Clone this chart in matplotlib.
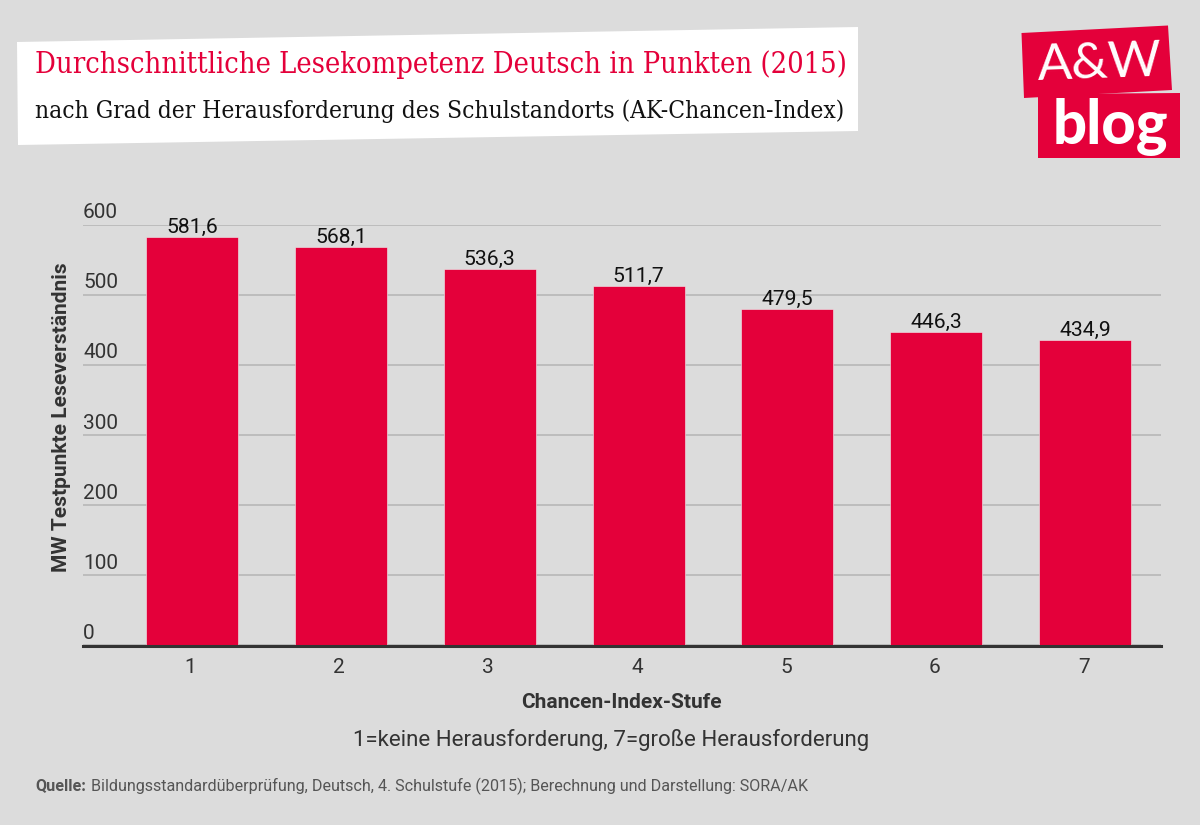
import matplotlib
matplotlib.use('Agg')
import matplotlib.pyplot as plt
from matplotlib.patches import Polygon
from matplotlib.transforms import ScaledTranslation

# Daten
stufen = [1, 2, 3, 4, 5, 6, 7]
werte = [581.6, 568.1, 536.3, 511.7, 479.5, 446.3, 434.9]
werte_text = ['581,6', '568,1', '536,3', '511,7', '479,5', '446,3', '434,9']
y_ticks = [0, 100, 200, 300, 400, 500, 600]

ROT = '#e4003a'
GRAU = '#dcdcdc'
DUNKEL = '#333333'

plt.rcParams['font.family'] = ['Roboto', 'DejaVu Sans']

W, H = 1200, 825
fig = plt.figure(figsize=(12, 8.25), dpi=100, facecolor=GRAU)

# Achsen in Pixelpositionen des Originals
links, rechts, oben, unten = 83, 1161, 224.5, 645.3
ax = fig.add_axes([links / W, 1 - unten / H, (rechts - links) / W, (unten - oben) / H])
ax.set_facecolor('none')
ax.set_xlim(0.268, 7.51)
ax.set_ylim(0, 600)

ax.grid(axis='y', color='#b4b4b4', linewidth=1.1)
ax.set_axisbelow(True)
ax.bar(stufen, werte, width=0.618, color=ROT, edgecolor='#f0f0f0', linewidth=0.4)

for s, v, t in zip(stufen, werte, werte_text):
    ax.annotate(t, (s, v), xytext=(0, 0.3), textcoords='offset points',
                ha='center', va='bottom', fontsize=15.2, color='#111111')

for side in ['top', 'left', 'right']:
    ax.spines[side].set_visible(False)
ax.spines['bottom'].set_color(DUNKEL)
ax.spines['bottom'].set_linewidth(2.2)
ax.spines['bottom'].set_position(('outward', 0.8))

ax.set_xticks(stufen)
ax.set_yticks(y_ticks)
ax.tick_params(axis='both', length=0, labelsize=15, labelcolor=DUNKEL)
ax.tick_params(axis='x', pad=8.7)
ax.tick_params(axis='y', pad=0)
hoch = ScaledTranslation(0, 4.6 / 72, fig.dpi_scale_trans)
links_weg = ScaledTranslation(-1.5 / 100, 0, fig.dpi_scale_trans)
for lab in ax.get_yticklabels():
    lab.set_ha('left')
    lab.set_va('baseline')
    lab.set_transform(lab.get_transform() + hoch)
for lab in ax.get_xticklabels():
    lab.set_transform(lab.get_transform() + links_weg)

# Overlay fuer Titel, Logo und Beschriftungen
ov = fig.add_axes([0, 0, 1, 1], zorder=5)
ov.set_xlim(0, W)
ov.set_ylim(H, 0)
ov.axis('off')

ov.add_patch(Polygon([(17, 42), (858, 27), (858, 131), (18, 145)], color='white', lw=0))
ov.text(35, 65, 'Durchschnittliche Lesekompetenz Deutsch in Punkten (2015)',
        family=['DejaVu Serif'], stretch='condensed', fontsize=20.8, color=ROT, va='center')
ov.text(35, 111, 'nach Grad der Herausforderung des Schulstandorts (AK-Chancen-Index)',
        family=['DejaVu Serif'], stretch='condensed', fontsize=17.6, color='#111111', va='center')

# Logo
ov.add_patch(Polygon([(1021.5, 33), (1168, 25.5), (1172, 90), (1024, 98)], color=ROT, lw=0))
ov.add_patch(Polygon([(1038, 94), (1180, 93), (1180, 158), (1038, 158)], color=ROT, lw=0))
ov.text(1100, 64, 'A&W', color='white', fontsize=37, ha='center', va='center',
        family=['Lato'], rotation=2)
ov.text(1110, 127, 'blog', color='white', fontsize=43, ha='center', va='center',
        family=['Lato'], fontweight='black')

ov.text(62, 417, 'MW Testpunkte Leseverständnis', rotation=90, fontsize=15, fontweight='bold',
        color=DUNKEL, ha='center', va='center')
ov.text(621, 703, 'Chancen-Index-Stufe', fontsize=15, fontweight='bold', color=DUNKEL,
        ha='center', va='center')
ov.text(611, 740, '1=keine Herausforderung, 7=große Herausforderung', fontsize=16, color=DUNKEL,
        ha='center', va='center')
ov.text(35, 786, 'Quelle:', fontsize=11.6, fontweight='bold', color='#555555', va='center')
ov.text(91, 786, 'Bildungsstandardüberprüfung, Deutsch, 4. Schulstufe (2015); Berechnung und Darstellung: SORA/AK',
        fontsize=11.6, color='#555555', va='center')

fig.savefig('out.png', dpi=100, facecolor=GRAU)
